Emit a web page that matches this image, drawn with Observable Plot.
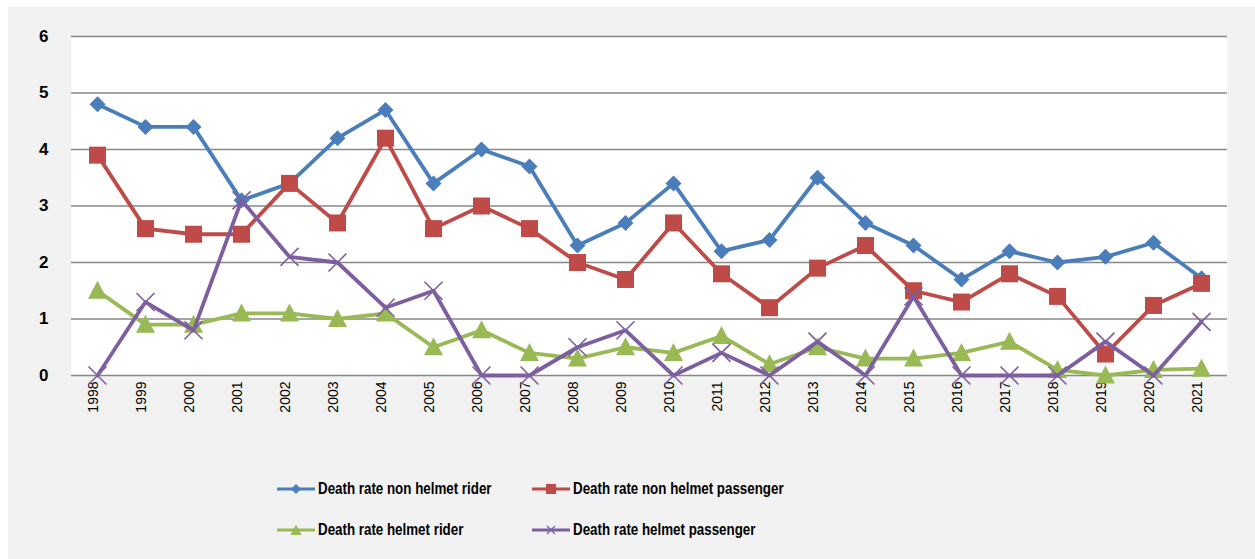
<!DOCTYPE html>
<html>
<head>
<meta charset="utf-8">
<script src="https://cdn.jsdelivr.net/npm/d3@7"></script>
<script src="https://cdn.jsdelivr.net/npm/@observablehq/plot@0.6"></script>
<style>
  html, body { margin: 0; padding: 0; background: #ffffff; }
  #wrap { position: absolute; left: 8px; top: 7px; width: 1247px; height: 552px; background: #f2f2f2; overflow: hidden; }
  #chart { position: absolute; left: 0; top: 0; }
  .leg { position: absolute; display: flex; align-items: center; height: 20px;
         font-family: "Liberation Sans", Arial, sans-serif;
         font-weight: bold; font-size: 17px; color: #000; white-space: nowrap; }
  .leg svg { margin-right: 3px; flex: none; }
  .leg span { display: inline-block; transform: scaleX(0.785); transform-origin: 0 50%; }
</style>
</head>
<body>
<div id="wrap"><div id="chart"></div></div>
<script>
const years = ["1998","1999","2000","2001","2002","2003","2004","2005","2006","2007","2008","2009","2010","2011","2012","2013","2014","2015","2016","2017","2018","2019","2020","2021"];
const nonHelmetRider = [4.8,4.4,4.4,3.1,3.4,4.2,4.7,3.4,4.0,3.7,2.3,2.7,3.4,2.2,2.4,3.5,2.7,2.3,1.7,2.2,2.0,2.1,2.35,1.72];
const nonHelmetPassenger = [3.9,2.6,2.5,2.5,3.4,2.7,4.2,2.6,3.0,2.6,2.0,1.7,2.7,1.8,1.2,1.9,2.3,1.5,1.3,1.8,1.4,0.38,1.24,1.63];
const helmetRider = [1.5,0.9,0.9,1.1,1.1,1.0,1.1,0.5,0.8,0.4,0.3,0.5,0.4,0.7,0.2,0.5,0.3,0.3,0.4,0.6,0.1,0.0,0.1,0.12];
const helmetPassenger = [0,1.3,0.8,3.1,2.1,2.0,1.2,1.5,0,0,0.5,0.8,0,0.4,0,0.6,0,1.4,0,0,0,0.6,0,0.95];
const seriesNames = ["Death rate non helmet rider","Death rate non helmet passenger","Death rate helmet rider","Death rate helmet passenger"];
const yTicks = [0,1,2,3,4,5,6];

const colors = ["#4a7ebb","#be4b48","#98b954","#7d5fa0"];
const seriesValues = [nonHelmetRider, nonHelmetPassenger, helmetRider, helmetPassenger];

const diamond = (r) => ({draw(ctx){ ctx.moveTo(0,-r); ctx.lineTo(r,0); ctx.lineTo(0,r); ctx.lineTo(-r,0); ctx.closePath(); }});
const square = (h) => ({draw(ctx){ ctx.moveTo(-h,-h); ctx.lineTo(h,-h); ctx.lineTo(h,h); ctx.lineTo(-h,h); ctx.closePath(); }});
const triangle = (h) => ({draw(ctx){ ctx.moveTo(0,-h*1.05); ctx.lineTo(h,h*0.85); ctx.lineTo(-h,h*0.85); ctx.closePath(); }});
const times = (h) => ({draw(ctx){ ctx.moveTo(-h,-h); ctx.lineTo(h,h); ctx.moveTo(h,-h); ctx.lineTo(-h,h); }});

const symbols = [diamond(8), square(8.5), triangle(9.5), times(9)];

const data = seriesValues.map((vals, i) => years.map((y, j) => ({series: seriesNames[i], year: y, value: vals[j]})));

const marks = [
  Plot.frame({fill: "#ffffff", stroke: null}),
  Plot.ruleY(yTicks, {stroke: "#878787", strokeWidth: 1.6}),
  Plot.text(yTicks, {y: (d) => d, text: (d) => String(d), frameAnchor: "left", textAnchor: "end", dx: -23, fontSize: 17, fontWeight: "bold", fill: "#000"}),
  Plot.text(years, {x: (d) => d, text: (d) => d, frameAnchor: "bottom", rotate: -90, textAnchor: "end", dy: 6, fontSize: 14, fill: "#000"})
];
data.forEach((d, i) => {
  marks.push(Plot.line(d, {x: "year", y: "value", stroke: colors[i], strokeWidth: 3.8, strokeLinejoin: "round"}));
  if (i === 3) {
    marks.push(Plot.dot(d, {x: "year", y: "value", symbol: symbols[i], r: 9, fill: "none", stroke: colors[i], strokeWidth: 1.6}));
  } else {
    marks.push(Plot.dot(d, {x: "year", y: "value", symbol: symbols[i], r: 9, fill: colors[i], stroke: "none"}));
  }
});

const chart = Plot.plot({
  width: 1247,
  height: 445,
  marginLeft: 63,
  marginRight: 28,
  marginTop: 29,
  marginBottom: 77,
  style: {fontFamily: "'Liberation Sans', Arial, sans-serif", background: "transparent", color: "#000"},
  x: {type: "point", domain: years, padding: 0.5, axis: null},
  y: {domain: [0, 6], axis: null},
  marks
});
document.getElementById("chart").appendChild(chart);

// legend
const legPos = [[269, 472], [524, 472], [269, 513], [524, 513]];
const legSyms = [
  (c) => `<path d="M19,3 L24,8 L19,13 L14,8 Z" fill="${c}"/>`,
  (c) => `<rect x="14" y="3" width="10" height="10" fill="${c}"/>`,
  (c) => `<path d="M19,2.5 L24.5,13 L13.5,13 Z" fill="${c}"/>`,
  (c) => `<path d="M15,4 L23,12 M23,4 L15,12" stroke="${c}" stroke-width="1.3" fill="none"/>`
];
seriesNames.forEach((name, i) => {
  const div = document.createElement("div");
  div.className = "leg";
  div.style.left = legPos[i][0] + "px";
  div.style.top = legPos[i][1] + "px";
  div.innerHTML = `<svg width="38" height="16" viewBox="0 0 38 16"><line x1="0" y1="8" x2="38" y2="8" stroke="${colors[i]}" stroke-width="3"/>${legSyms[i](colors[i])}</svg><span>${name}</span>`;
  document.getElementById("wrap").appendChild(div);
});
</script>
</body>
</html>
